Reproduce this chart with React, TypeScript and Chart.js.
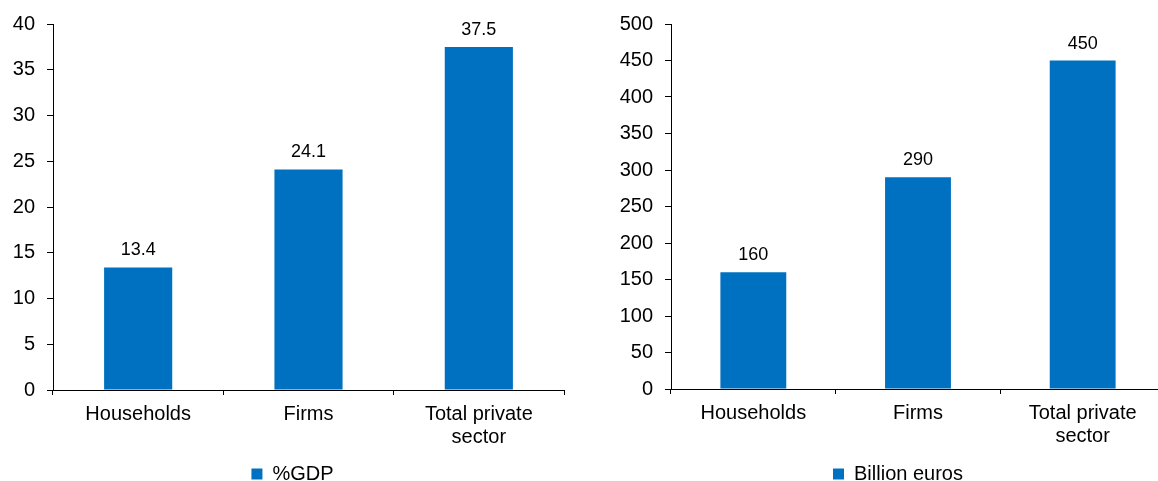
import React, { useEffect, useRef } from "react";
import { Chart, registerables } from "chart.js";

Chart.register(...registerables);

// ---- data ----
const categories: string[][] = [["Households"], ["Firms"], ["Total private", "sector"]];
const gdpLabel = "%GDP";
const gdpValues = [13.4, 24.1, 37.5];
const gdpAxis = { max: 40, step: 5 };
const euroLabel = "Billion euros";
const euroValues = [160, 290, 450];
const euroAxis = { max: 500, step: 50 };

const FONT = "'Liberation Sans', Arial, sans-serif";
const BLUE = "#0070C0";

function makeValueLabels(decimals: number) {
  return {
    id: "valueLabels",
    afterDatasetsDraw(chart: any) {
      const ctx = chart.ctx;
      const meta = chart.getDatasetMeta(0);
      const ds = chart.data.datasets[0];
      ctx.save();
      ctx.font = `18px ${FONT}`;
      ctx.fillStyle = "#000";
      ctx.textAlign = "center";
      ctx.textBaseline = "alphabetic";
      meta.data.forEach((el: any, i: number) => {
        const v = ds.data[i] as number;
        ctx.fillText(v.toFixed(decimals), el.x, el.y - 12);
      });
      ctx.restore();
    },
  };
}

type PanelProps = {
  left: number;
  width: number;
  height: number;
  label: string;
  values: number[];
  axis: { max: number; step: number };
  yWidth: number;
  xHeight: number;
  rightSpace: number;
  decimals: number;
};

function Panel(p: PanelProps) {
  const ref = useRef<HTMLCanvasElement | null>(null);
  useEffect(() => {
    if (!ref.current) return;
    const chart = new Chart(ref.current, {
      type: "bar",
      data: {
        labels: categories,
        datasets: [
          {
            label: p.label,
            data: p.values,
            backgroundColor: BLUE,
            borderWidth: 0,
            categoryPercentage: 1,
            barPercentage: 0.4,
            yAxisID: "y",
          },
        ],
      },
      options: {
        animation: false,
        responsive: false,
        devicePixelRatio: 1,
        layout: { padding: { top: 22, left: 0, right: 0, bottom: 0 } },
        plugins: {
          tooltip: { enabled: false },
          legend: {
            position: "bottom",
            labels: {
              color: "#000",
              font: { family: FONT, size: 20 },
              boxWidth: 11,
              boxHeight: 11,
              padding: 10,
            },
          },
        },
        scales: {
          x: {
            grid: {
              drawOnChartArea: false,
              color: "#000",
              tickLength: 5,
              offset: true,
            },
            border: { color: "#000", width: 1 },
            ticks: {
              color: "#000",
              font: { family: FONT, size: 20, lineHeight: 1.15 },
              padding: 8,
              maxRotation: 0,
              autoSkip: false,
            },
            afterFit: (s: any) => {
              s.height = p.xHeight;
            },
          },
          y: {
            min: 0,
            max: p.axis.max,
            grid: {
              drawOnChartArea: false,
              color: "#000",
              tickLength: 6,
            },
            border: { color: "#000", width: 1 },
            ticks: {
              stepSize: p.axis.step,
              color: "#000",
              font: { family: FONT, size: 20 },
              padding: 12,
            },
            afterFit: (s: any) => {
              s.width = p.yWidth;
            },
          },
          spacer: {
            type: "linear",
            position: "right",
            display: true,
            grid: { display: false, drawTicks: false },
            border: { display: false },
            ticks: { display: false },
            afterFit: (s: any) => {
              s.width = p.rightSpace;
            },
          },
        },
      },
      plugins: [makeValueLabels(p.decimals)],
    } as any);
    return () => chart.destroy();
  }, []);
  return (
    <canvas
      ref={ref}
      width={p.width}
      height={p.height}
      style={{ position: "absolute", left: p.left, top: 0, width: p.width, height: p.height }}
    />
  );
}

export default function App() {
  return (
    <div
      style={{
        position: "fixed",
        left: 0,
        top: 0,
        width: 1158,
        height: 481,
        overflow: "hidden",
        background: "#fff",
      }}
    >
      <Panel
        left={0}
        width={585}
        height={494}
        label={gdpLabel}
        values={gdpValues}
        axis={gdpAxis}
        yWidth={53}
        xHeight={64}
        rightSpace={21}
        decimals={1}
      />
      <Panel
        left={578}
        width={640}
        height={494}
        label={euroLabel}
        values={euroValues}
        axis={euroAxis}
        yWidth={93}
        xHeight={65}
        rightSpace={53}
        decimals={0}
      />
    </div>
  );
}
